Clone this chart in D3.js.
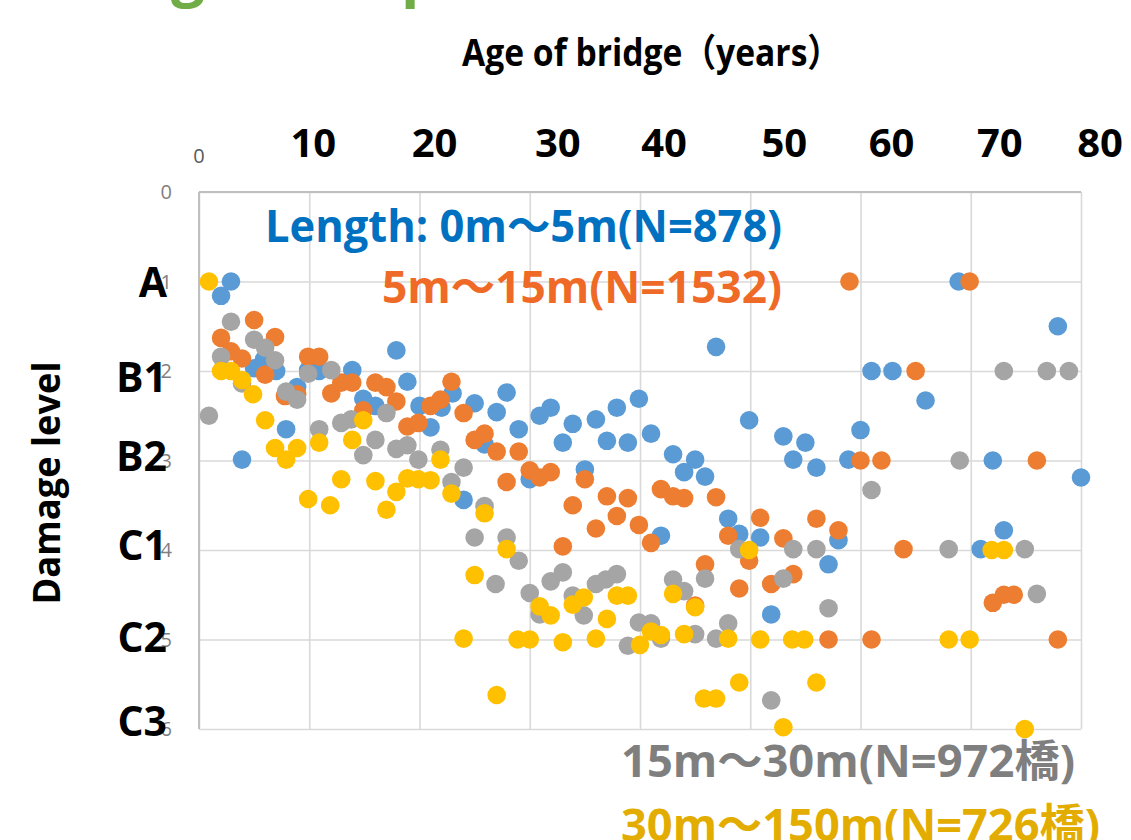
<!DOCTYPE html>
<html>
<head>
<meta charset="utf-8">
<script src="https://cdn.jsdelivr.net/npm/d3@7"></script>
<style>
  html, body { margin: 0; padding: 0; background: #fff; }
  svg { display: block; }
  text { font-family: "Open Sans", "Noto Sans CJK JP", sans-serif; }
</style>
</head>
<body>
<svg id="chart" width="1131" height="840"></svg>
<script>
// ---- data ----
const xTickValues = [0, 10, 20, 30, 40, 50, 60, 70, 80];
const xTickLabels = ["0", "10", "20", "30", "40", "50", "60", "70", "80"];
const yTickValues = [0, 1, 2, 3, 4, 5, 6];
const yCategoryLevels = [1, 2, 3, 4, 5, 6];
const yCategoryLabels = ["A", "B1", "B2", "C1", "C2", "C3"];

const xTitle = "Age of bridge（years）";
const yTitle = "Damage level";
const seriesNames = [
  "Length: 0m～5m(N=878)",
  "5m～15m(N=1532)",
  "15m～30m(N=972橋)",
  "30m～150m(N=726橋)"
];

// [age (years), damage level]
const len0to5 = [
  [2.9,1.0],[2.0,1.16],[17.9,1.77],[5.0,1.97],[5.9,1.87],[7.0,2.0],[3.9,2.99],[7.9,2.65],[8.9,2.18],
  [9.9,1.99],[10.9,2.0],[13.9,1.99],[18.9,2.12],[14.9,2.31],[16.0,2.39],[20.0,2.39],[21.0,2.63],
  [22.0,2.41],[23.0,2.25],[25.0,2.36],[27.0,2.46],[27.9,2.24],[29.0,2.65],[25.9,2.82],[30.9,2.5],
  [31.9,2.41],[33.9,2.59],[33.0,2.8],[36.0,2.54],[37.0,2.78],[37.9,2.41],[38.9,2.8],[39.9,2.31],
  [35.0,3.1],[30.0,3.21],[24.0,3.44],[41.0,2.7],[43.0,2.93],[45.0,2.99],[44.0,3.13],[45.9,3.18],
  [46.9,1.73],[49.9,2.55],[48.0,3.65],[49.0,3.82],[50.9,3.86],[41.9,3.84],[53.0,2.73],[55.0,2.8],
  [53.9,2.99],[56.0,3.08],[58.9,2.99],[60.0,2.66],[57.1,4.16],[58.0,3.89],[51.9,4.72],[68.9,1.0],
  [77.9,1.5],[61.0,2.0],[62.9,2.0],[65.9,2.33],[72.0,3.0],[80.0,3.19],[73.0,3.78],[70.9,3.99]
];
const len5to15 = [
  [5.0,1.43],[2.0,1.63],[6.9,1.62],[2.9,1.78],[3.9,1.86],[6.0,2.04],[7.8,2.28],[8.9,2.26],[9.9,1.84],
  [10.9,1.84],[12.0,2.25],[12.9,2.13],[13.9,2.13],[16.0,2.13],[17.0,2.18],[17.9,2.34],[18.9,2.62],
  [19.9,2.58],[14.9,2.44],[21.0,2.39],[21.9,2.32],[22.9,2.12],[24.0,2.47],[25.0,2.77],[25.9,2.7],
  [27.0,2.9],[29.0,2.9],[27.9,3.24],[30.0,3.11],[30.9,3.19],[31.9,3.13],[35.0,3.21],[33.9,3.5],
  [36.0,3.76],[37.0,3.4],[38.9,3.42],[37.9,3.62],[39.9,3.72],[33.0,3.96],[41.0,3.92],[41.9,3.32],
  [43.0,3.4],[44.0,3.42],[46.9,3.41],[48.0,3.84],[49.9,4.12],[50.9,3.64],[53.0,3.87],[56.0,3.65],
  [58.0,3.78],[45.9,4.16],[49.0,4.43],[51.9,4.38],[53.9,4.27],[45.0,4.62],[57.1,5.0],[59.0,1.0],
  [60.0,3.0],[69.9,1.0],[65.0,2.0],[61.9,3.0],[76.0,3.0],[63.9,3.99],[72.0,4.59],[73.0,4.5],
  [73.9,4.5],[61.0,5.0],[77.9,5.0]
];
const len15to30 = [
  [2.9,1.45],[2.0,1.84],[5.0,1.65],[6.0,1.74],[6.9,1.88],[3.9,2.14],[0.9,2.5],[7.9,2.23],[8.9,2.32],
  [9.9,2.03],[12.0,1.99],[10.9,2.65],[12.9,2.58],[13.8,2.54],[14.9,2.94],[16.0,2.77],[17.0,2.47],
  [17.9,2.87],[18.9,2.83],[19.9,2.99],[21.9,2.88],[22.9,3.24],[24.0,3.08],[25.9,3.51],[25.0,3.86],
  [27.9,3.86],[26.9,4.38],[29.0,4.12],[30.0,4.48],[31.9,4.35],[33.0,4.25],[30.9,4.72],[33.9,4.51],
  [34.9,4.73],[36.0,4.38],[36.9,4.33],[37.9,4.27],[39.9,4.81],[38.9,5.07],[41.0,4.82],[41.9,4.99],
  [43.0,4.33],[44.0,4.46],[45.0,4.94],[45.9,4.32],[46.9,4.99],[48.0,4.82],[49.0,3.99],[53.9,3.99],
  [56.0,3.99],[53.0,4.32],[57.1,4.65],[51.9,5.68],[61.0,3.33],[69.0,3.0],[68.0,3.99],[74.9,3.99],
  [76.0,4.49],[73.0,2.0],[76.9,2.0],[78.9,2.0]
];
const len30to150 = [
  [0.9,1.0],[2.0,2.0],[2.9,2.0],[3.9,2.1],[4.9,2.26],[6.0,2.55],[6.9,2.86],[7.9,2.99],[8.9,2.86],
  [9.9,3.43],[10.9,2.8],[11.9,3.5],[12.9,3.21],[13.9,2.77],[14.9,2.55],[16.0,3.23],[17.0,3.55],
  [17.9,3.35],[18.9,3.2],[19.9,3.21],[21.0,3.22],[21.9,2.99],[22.9,3.37],[25.9,3.59],[25.0,4.28],
  [27.9,3.99],[24.0,4.99],[28.9,5.0],[30.0,5.0],[27.0,5.62],[30.9,4.63],[31.9,4.73],[33.9,4.61],
  [34.9,4.53],[33.0,5.03],[36.0,4.99],[37.0,4.77],[37.9,4.51],[38.9,4.51],[40.0,5.06],[41.0,4.91],
  [41.9,4.95],[43.0,4.49],[44.0,4.94],[45.0,4.64],[48.0,4.99],[49.9,4.0],[50.9,5.0],[53.8,5.0],
  [54.9,5.0],[45.8,5.66],[46.9,5.66],[49.0,5.48],[53.0,5.98],[56.0,5.48],[71.9,4.0],[73.0,4.0],
  [68.0,5.0],[69.9,5.0],[74.9,6.0]
];

// ---- layout / style ----
const svg = d3.select("#chart");
const plot = { left: 199, right: 1081, top: 192, bottom: 729 };
const x = d3.scaleLinear().domain([0, 80]).range([plot.left, plot.right]);
const y = d3.scaleLinear().domain([0, 6]).range([plot.top, plot.bottom]);

// hand-placed overlay label nudges (pixels), as in the original slide
const xLabelNudge = [4, 15, 28, 24, 34, 31, 29, 19];
const yLabelNudge = [15, 21, 10, 10, 12, 7];

const series = [
  { data: len0to5,    dot: "#5B9BD5" },
  { data: len5to15,   dot: "#ED7D31" },
  { data: len15to30,  dot: "#A5A5A5" },
  { data: len30to150, dot: "#FFC000" }
];

// clipped green slide title (only descenders visible at top)
svg.append("text").attr("x", 171).attr("y", -6).attr("font-size", 60).attr("font-weight", 700)
  .attr("fill", "#70AD47").text("g");
svg.append("text").attr("x", 401).attr("y", -6).attr("font-size", 60).attr("font-weight", 700)
  .attr("fill", "#70AD47").text("p");

// gridlines via axes
const grid = svg.append("g");
grid.append("g")
  .attr("transform", `translate(0,${plot.top})`)
  .call(d3.axisTop(x).tickValues(xTickValues).tickSize(-(plot.bottom - plot.top)).tickFormat(""))
  .call(g => g.select(".domain").remove())
  .call(g => g.selectAll("line").attr("stroke", "#D9D9D9").attr("stroke-width", 1.6));
grid.append("g")
  .attr("transform", `translate(${plot.left},0)`)
  .call(d3.axisLeft(y).tickValues(yTickValues).tickSize(-(plot.right - plot.left)).tickFormat(""))
  .call(g => g.select(".domain").remove())
  .call(g => g.selectAll("line").attr("stroke", "#D9D9D9").attr("stroke-width", 1.6));
// axis lines
svg.append("line").attr("x1", x(0)).attr("x2", x(0)).attr("y1", y(0)).attr("y2", y(6))
  .attr("stroke", "#BFBFBF").attr("stroke-width", 2);
svg.append("line").attr("x1", x(0)).attr("x2", x(80)).attr("y1", y(0)).attr("y2", y(0))
  .attr("stroke", "#BFBFBF").attr("stroke-width", 2);

// small gray axis numbers (original axis labels)
svg.append("text").attr("x", x(xTickValues[0])).attr("y", 163).attr("text-anchor", "middle")
  .attr("font-size", 20).attr("fill", "#595959").text(xTickLabels[0]);
svg.append("g").selectAll("text").data(yTickValues).join("text")
  .attr("x", 172).attr("y", d => y(d) + 7).attr("text-anchor", "end")
  .attr("font-size", 20).attr("fill", "#7F7F7F").text(d => d);

// big bold x tick labels
svg.append("g").selectAll("text").data(xTickValues.slice(1)).join("text")
  .attr("x", (d, i) => x(d) + xLabelNudge[i]).attr("y", 157).attr("text-anchor", "middle")
  .attr("font-size", 40).attr("font-weight", 700).attr("fill", "#000")
  .text((d, i) => xTickLabels[i + 1]);

// big bold damage categories
svg.append("g").selectAll("text").data(yCategoryLevels).join("text")
  .attr("x", 167).attr("y", (d, i) => y(d) + yLabelNudge[i]).attr("text-anchor", "end")
  .attr("font-size", 41).attr("font-weight", 700).attr("fill", "#000")
  .text((d, i) => yCategoryLabels[i]);

// titles
svg.append("text").attr("x", 462).attr("y", 66)
  .attr("font-size", 38).attr("font-weight", 700).attr("fill", "#000")
  .attr("textLength", 379).attr("lengthAdjust", "spacingAndGlyphs").text(xTitle);
svg.append("text").attr("transform", "translate(60,483) rotate(-90)").attr("text-anchor", "middle")
  .attr("font-size", 38).attr("font-weight", 700).attr("fill", "#000")
  .attr("textLength", 243).attr("lengthAdjust", "spacingAndGlyphs").text(yTitle);

// points
series.forEach(s => {
  svg.append("g").selectAll("circle").data(s.data).join("circle")
    .attr("cx", d => x(d[0])).attr("cy", d => y(d[1])).attr("r", 9.3)
    .attr("fill", s.dot);
});

// series labels
const labelSpecs = [
  { x: 265, y: 242, len: 517, color: "#0070C0" },
  { x: 382, y: 303, len: 400, color: "#EF6A26" },
  { x: 621, y: 777, len: 454, color: "#7F7F7F" },
  { x: 621, y: 841, len: 479, color: "#E3AC00" }
];
svg.append("g").selectAll("text").data(seriesNames).join("text")
  .attr("x", (d, i) => labelSpecs[i].x).attr("y", (d, i) => labelSpecs[i].y)
  .attr("font-size", 44).attr("font-weight", 700)
  .attr("fill", (d, i) => labelSpecs[i].color)
  .attr("textLength", (d, i) => labelSpecs[i].len).attr("lengthAdjust", "spacingAndGlyphs")
  .text(d => d);
</script>
</body>
</html>
